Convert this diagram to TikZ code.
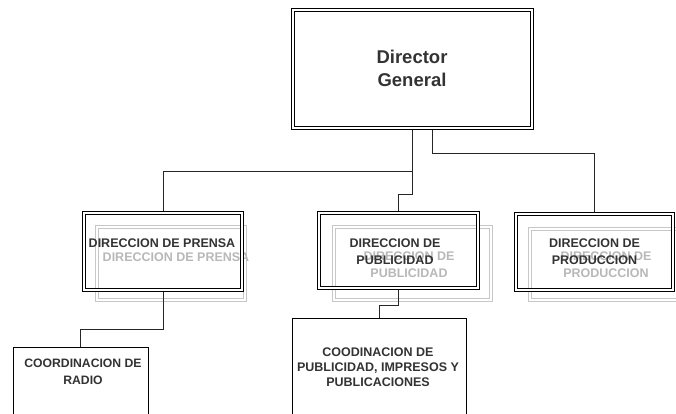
\documentclass[tikz,border=0pt]{standalone}
\usepackage{fontspec}
\setmainfont{Liberation Sans}
\begin{document}
\begin{tikzpicture}[x=1pt,y=-1pt,
  dbl/.style={rectangle,inner sep=0pt,outer sep=1.9pt,line width=0.8pt,double=white,double distance=2.2pt},
  mainbox/.style={dbl,draw=black},
  ghostbox/.style={dbl,draw=black!22},
  plainbox/.style={rectangle,inner sep=0pt,outer sep=0.5pt,draw=black,line width=1pt},
  lbl/.style={align=center,inner sep=0pt,text=black!80,font=\bfseries\fontsize{12.5}{16.5}\selectfont},
  ghostlbl/.style={lbl,text=black!28},
  wire/.style={draw=black!85,line width=1pt}]
\definecolor{paper}{RGB}{255,255,255}
\clip (0,0) rectangle (676,414);
\fill[paper] (0,0) rectangle (676,414);

% faint offset copies behind the department boxes
\node[ghostbox,minimum width=148.2pt,minimum height=73.2pt] (gprensa) at (171,263.5) {};
\node[ghostbox,minimum width=157.2pt,minimum height=73.2pt] (gpub) at (412.5,263.5) {};
\node[ghostbox,minimum width=158.2pt,minimum height=71.2pt] (gprod) at (609,264.5) {};
\node[ghostlbl] (gprensatxt) at (176,257) {DIRECCION DE PRENSA};
\node[ghostlbl] (gpubtxt) at (409,264.5) {DIRECCION DE\\PUBLICIDAD};
\node[ghostlbl] (gprodtxt) at (606,264.5) {DIRECCION DE\\PRODUCCION};

% main boxes
\node[mainbox,minimum width=239.2pt,minimum height=118.2pt] (dir) at (412.5,69) {};
\node[mainbox,minimum width=158.2pt,minimum height=77.2pt] (prensa) at (163,251.5) {};
\node[mainbox,minimum width=159.2pt,minimum height=75.2pt] (pub) at (398.5,250.5) {};
\node[mainbox,minimum width=157.2pt,minimum height=76.2pt] (prod) at (594.5,252) {};
\node[plainbox,minimum width=135pt,minimum height=90pt] (radio) at (80.5,392) {};
\node[plainbox,minimum width=174pt,minimum height=120pt] (coord) at (379,378) {};

% labels
\node[lbl,font=\bfseries\fontsize{18.5}{23}\selectfont] (dirtxt) at (412,68) {Director\\General};
\node[lbl] (prensatxt) at (162,243) {DIRECCION DE PRENSA};
\node[lbl] (pubtxt) at (395,251.5) {DIRECCION DE\\PUBLICIDAD};
\node[lbl] (prodtxt) at (594.5,251.5) {DIRECCION DE\\PRODUCCION};
\node[lbl,font=\bfseries\fontsize{12.2}{17}\selectfont] (radiotxt) at (83,371.5) {COORDINACION DE\\RADIO};
\node[lbl,font=\bfseries\fontsize{12.5}{15}\selectfont] (coordtxt) at (378,367) {COODINACION DE\\PUBLICIDAD, IMPRESOS Y\\PUBLICACIONES};

% connectors
\draw[wire] (dir.south) -- ++(0,64) -| (pub.north);
\draw[wire] (dir.south) ++(0,41) -| (prensa.north);
\draw[wire] (dir.south) ++(20,0) -- ++(0,24) -| (prod.north);
\draw[wire] (prensa.south) -- ++(0,37) -| (radio.north);
\draw[wire] (pub.south) -- ++(0,15) -| (coord.north);
\end{tikzpicture}
\end{document}
